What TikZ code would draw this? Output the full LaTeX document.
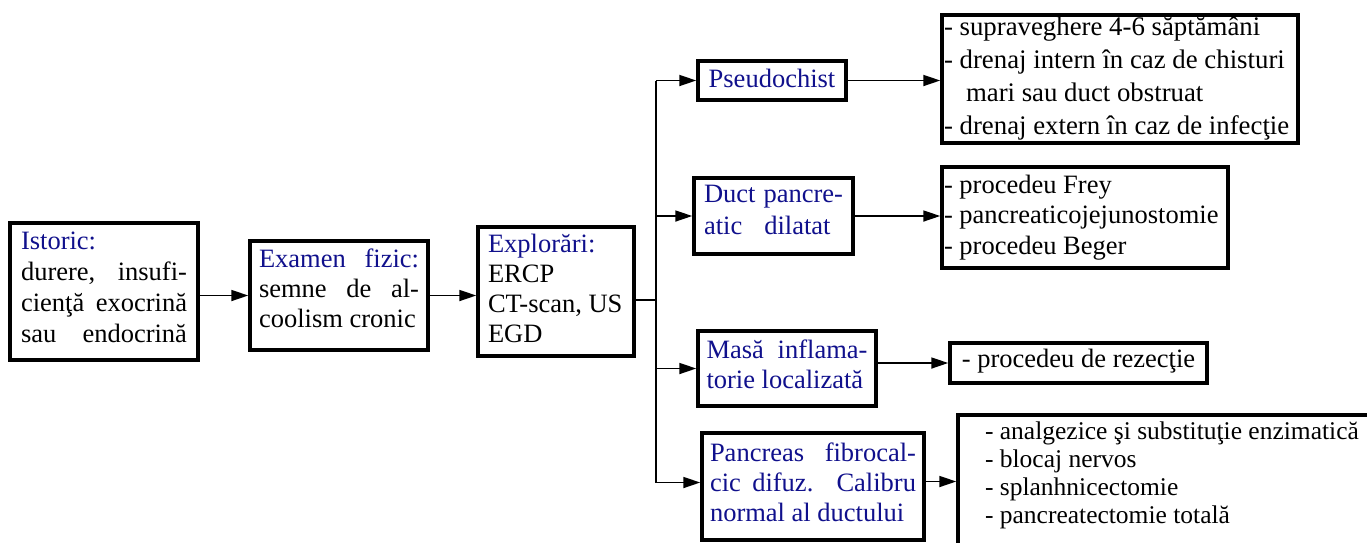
\documentclass[tikz,border=0pt]{standalone}
\usepackage{fontspec}
\setmainfont{Liberation Serif}
\usetikzlibrary{arrows.meta,calc}
\definecolor{hdblue}{RGB}{16,16,140}
\newcommand\fsz[2]{\fontsize{#1}{#2}\selectfont}
\newcommand\jline[1]{\makebox[\linewidth][s]{#1}}
\begin{document}
\begin{tikzpicture}[x=1pt,y=-1pt,
  box/.style={draw, line width=3.5pt, rectangle, inner sep=0pt, anchor=base},
  link/.style={line width=1.8pt},
  arr/.style={link, -{Triangle[length=17pt,width=11pt]}}]
\useasboundingbox (0,0) rectangle (1367,542);
\clip (0,0) rectangle (1367,542);

% left column: history, examination, investigations
\node[box, minimum width=188pt, text height=26pt, text depth=111pt] (ist) at (104,249)
  {\parbox[t]{166pt}{\fsz{26.5}{31}\textcolor{hdblue}{Istoric:}\\
   \jline{durere, insufi-}\\\jline{cienţă exocrină}\\\jline{sau endocrină}}};
\node[box, minimum width=178pt, text height=26.5pt, text depth=82.5pt] (ex) at (339,267.5)
  {\parbox[t]{160pt}{\fsz{26.5}{30}\jline{\textcolor{hdblue}{Examen fizic:}}\\
   \jline{semne de al-}\\coolism cronic}};
\node[box, minimum width=156pt, text height=25.5pt, text depth=103.5pt] (exp) at (556,252.5)
  {\parbox[t]{136pt}{\fsz{26.5}{30}\textcolor{hdblue}{Explorări:}\\ERCP\\CT-scan, US\\EGD}};

% findings
\node[box, minimum width=148pt, text height=26.5pt, text depth=12.5pt,
  font=\fsz{26.5}{30}, text=hdblue] (pse) at (772,87.5) {Pseudochist};
\node[box, minimum width=159pt, text height=24pt, text depth=52pt, text=hdblue] (duct) at (773.5,202)
  {\parbox[t]{139pt}{\fsz{26.5}{32}\jline{Duct pancre-}\\
   atic\hspace{22pt}dilatat}};
\node[box, minimum width=178pt, text height=27pt, text depth=48pt, text=hdblue] (masa) at (787,358)
  {\parbox[t]{161pt}{\fsz{26.5}{30}\jline{Masă inflama-}\\torie localizată}};
\node[box, minimum width=222pt, text height=28pt, text depth=79pt, text=hdblue] (pan) at (813,461)
  {\parbox[t]{206pt}{\fsz{26.5}{30}\jline{Pancreas fibrocal-}\\
   \jline{cic difuz. Calibru}\\normal al ductului}};

% treatments
\node[box, minimum width=356pt, text height=20pt, text depth=108pt] (r1) at (1120,35)
  {\parbox[t]{352pt}{\fsz{26.8}{33}- supraveghere 4-6 săptămâni\\
   - drenaj intern în caz de chisturi\\\hspace*{22pt}mari sau duct obstruat\\
   - drenaj extern în caz de infecţie}};
\node[box, minimum width=286pt, text height=26pt, text depth=75pt] (r2) at (1085,193)
  {\parbox[t]{282pt}{\fsz{26.5}{30.5}- procedeu Frey\\- pancreaticojejunostomie\\- procedeu Beger}};
\node[box, minimum width=257pt, text height=24.5pt, text depth=15.5pt,
  font=\fsz{26.5}{30}] (r3) at (1078.5,367.5) {- procedeu de rezecţie};
\node[box, minimum width=450pt, text height=24pt, text depth=161pt] (r4) at (1183,439)
  {\parbox[t]{396pt}{\fsz{25.5}{28}- analgezice şi substituţie enzimatică\\- blocaj nervos\\
   - splanhnicectomie\\- pancreatectomie totală}};

% connectors
\draw[arr] (ist.east |- ex.west) -- (ex.west);
\draw[arr] (ex.east) -- (ex.east -| exp.west);
\coordinate (tr) at (656,300);
\coordinate (pin) at ([yshift=4pt]pan.west);
\draw[link] ([yshift=-8.5pt]exp.east) -- ([yshift=-8.5pt]exp.east -| tr);
\draw[link] (tr |- pse.west) -- (tr |- pin);
\draw[arr] (tr |- pse.west) -- (pse.west);
\draw[arr] (tr |- duct.west) -- (duct.west);
\draw[arr] (tr |- masa.west) -- (masa.west);
\draw[arr] (tr |- pin) -- (pin);
\draw[arr] (pse.east) -- (pse.east -| r1.west);
\draw[arr] (duct.east) -- (duct.east -| r2.west);
\draw[arr] (r3.west -| masa.east) -- (r3.west);
\draw[arr] ([yshift=5pt]pan.east) -- ([yshift=5pt]pan.east -| r4.west);
\end{tikzpicture}
\end{document}
